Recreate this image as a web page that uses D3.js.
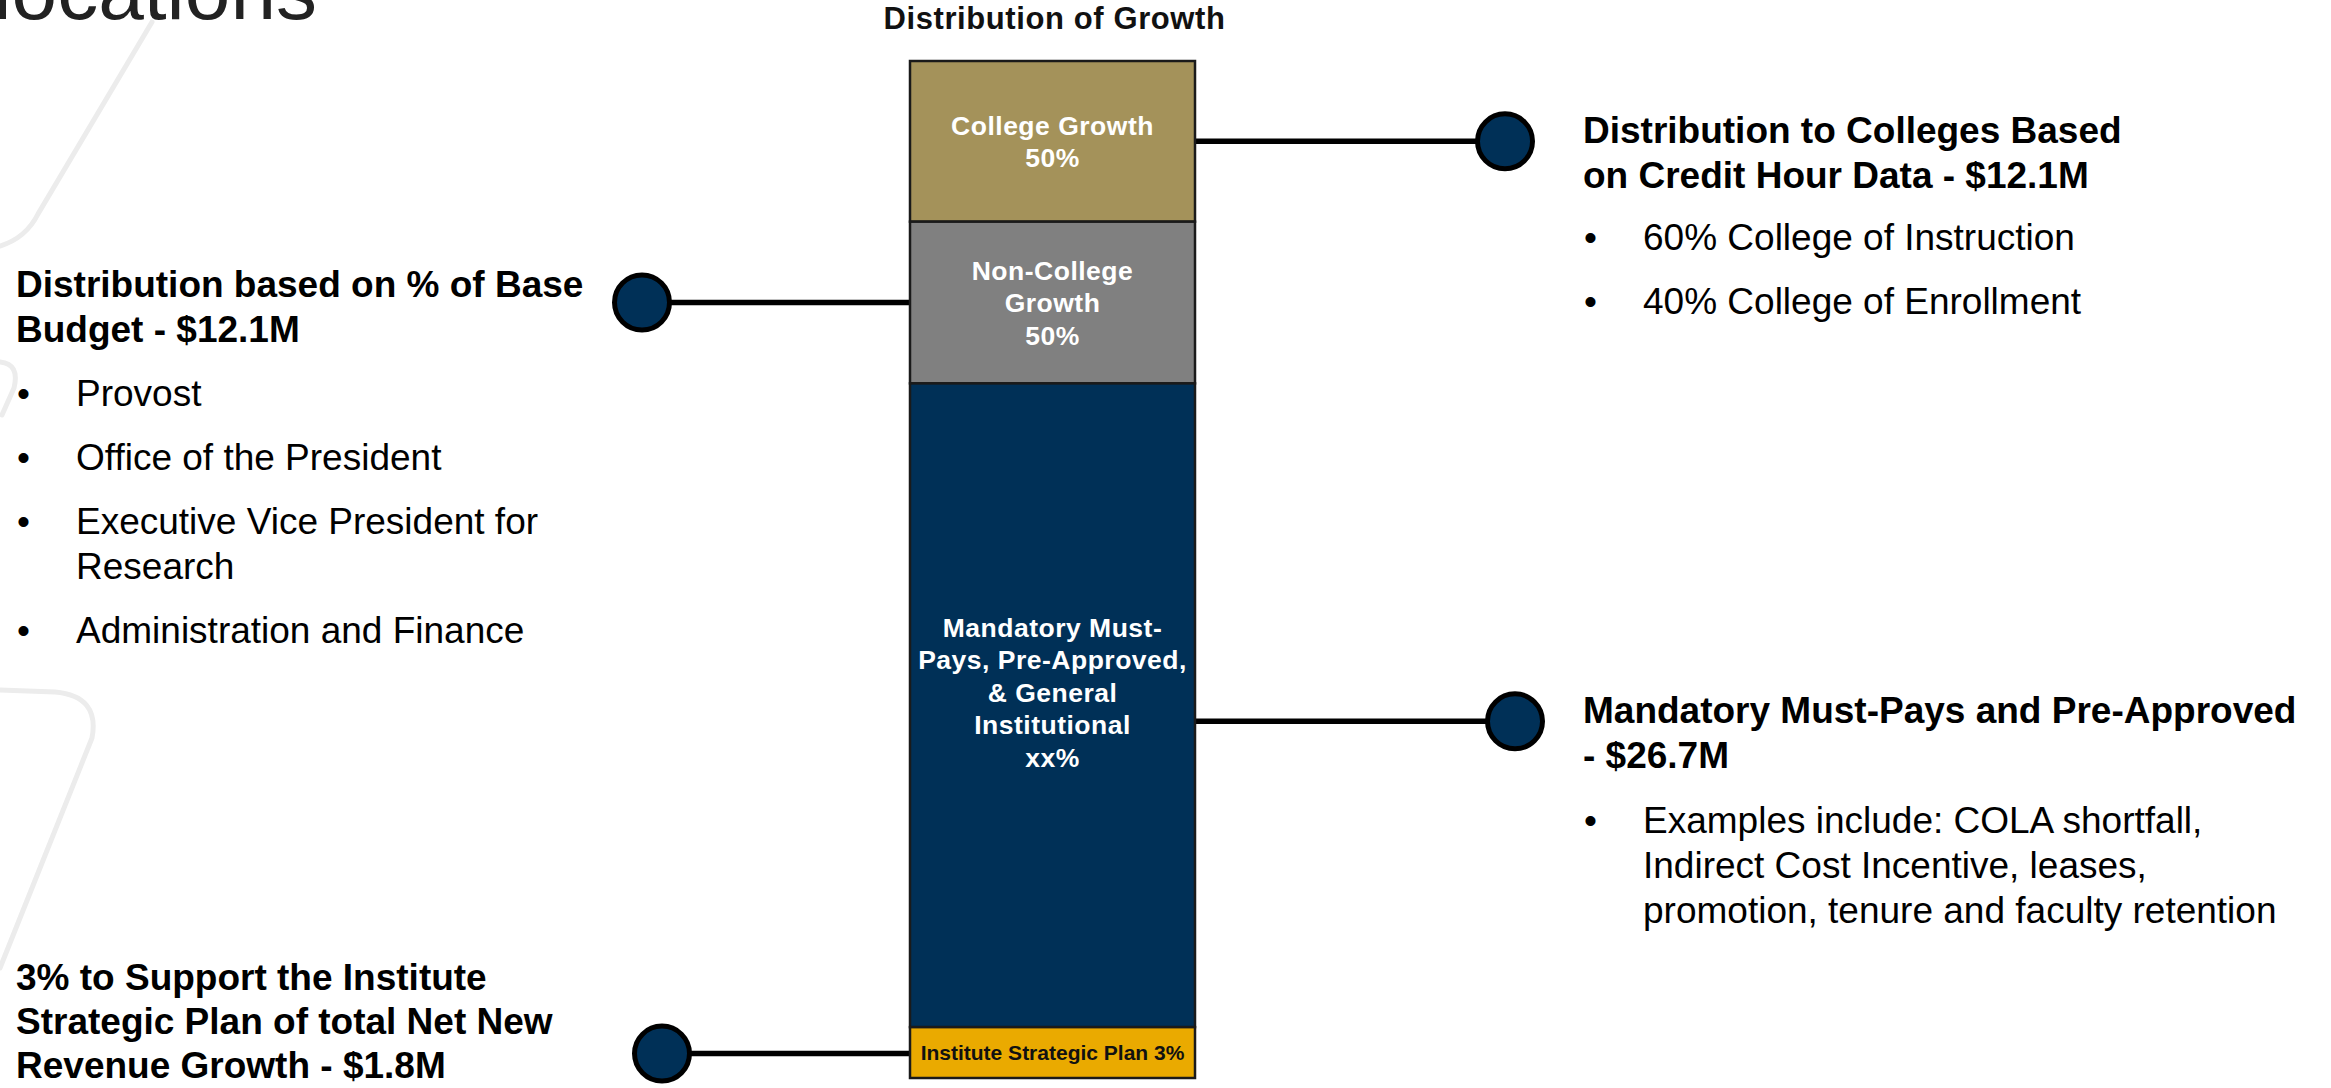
<!DOCTYPE html>
<html>
<head>
<meta charset="utf-8">
<script src="https://cdn.jsdelivr.net/npm/d3@7"></script>
<style>
  html, body { margin: 0; padding: 0; background: #fff; }
  svg { display: block; font-family: "Liberation Sans", Arial, sans-serif; }
</style>
</head>
<body>
<div id="chart"></div>
<script>
// bar segments, top to bottom
var segNames = ["College Growth", "Non-College Growth", "Mandatory Must-Pays, Pre-Approved, & General Institutional", "Institute Strategic Plan"];
var segShare = [15.8, 15.9, 63.3, 5.0]; // share of the bar height, as drawn
var segLabels = [
  ["College Growth", "50%"],
  ["Non-College", "Growth", "50%"],
  ["Mandatory Must-", "Pays, Pre-Approved,", "& General", "Institutional", "xx%"],
  ["Institute Strategic Plan 3%"]
];
var segColors = ["#a4925a", "#808080", "#003057", "#eaaa00"];
var segTextColors = ["#ffffff", "#ffffff", "#ffffff", "#111111"];

// callouts, one per segment
var calloutSide = ["right", "left", "right", "left"];
var calloutHeads = [
  ["Distribution to Colleges Based", "on Credit Hour Data - $12.1M"],
  ["Distribution based on % of Base", "Budget - $12.1M"],
  ["Mandatory Must-Pays and Pre-Approved", "- $26.7M"],
  ["3% to Support the Institute", "Strategic Plan of total Net New", "Revenue Growth - $1.8M"]
];
var calloutBullets = [
  [["60% College of Instruction"], ["40% College of Enrollment"]],
  [["Provost"], ["Office of the President"], ["Executive Vice President for", "Research"], ["Administration and Finance"]],
  [["Examples include: COLA shortfall,", "Indirect Cost Incentive, leases,", "promotion, tenure and faculty retention"]],
  []
];

var W = 2331, H = 1088;
var bar = {x0: 910, x1: 1195, top: 61, bottom: 1078};
var anchorAt = [0.5, 0.5, 0.525, 0.52];   // where the connector leaves each segment
var labelShift = [0, 0, -13, 0];
var circleX = [1505, 642, 1515, 662];
var headY = [143, 297, 723, 990];
var headLH = [45, 45, 45, 44];
var bulletY = [250, 406, 833, 0];
var lineH = 45, bulletGap = 64;

var svg = d3.select("#chart").append("svg")
  .attr("width", W)
  .attr("height", H);

// faint background strokes of the slide
var deco = svg.append("g")
  .attr("fill", "none")
  .attr("stroke", "#ececec")
  .attr("stroke-width", 5)
  .attr("stroke-linecap", "round");
deco.append("path").attr("d", "M152,22 L38,214 Q26,238 0,246");
deco.append("path").attr("d", "M0,362 Q20,364 14,388 L2,415");
deco.append("path").attr("d", "M0,690 L55,692 Q100,696 92,738 L0,968");

// slide title, cut by the top edge as in the slide
svg.append("text")
  .attr("x", 317)
  .attr("y", 19)
  .attr("text-anchor", "end")
  .attr("font-size", 82)
  .attr("fill", "#222")
  .text("Allocations");

svg.append("text")
  .attr("x", (bar.x0 + bar.x1) / 2 + 2)
  .attr("y", 29)
  .attr("text-anchor", "middle")
  .attr("font-size", 31)
  .attr("font-weight", "bold")
  .attr("letter-spacing", 0.6)
  .attr("fill", "#111")
  .text("Distribution of Growth");

var y = d3.scaleLinear()
  .domain([0, d3.sum(segShare)])
  .range([bar.top, bar.bottom]);

var ends = Array.from(d3.cumsum(segShare));
var segs = segNames.map((n, i) => ({
  name: n, i: i,
  y0: ends[i] - segShare[i],
  y1: ends[i]
}));
segs.forEach(d => { d.anchor = y(d.y0 + segShare[d.i] * anchorAt[d.i]); });

// connectors
svg.append("g")
  .selectAll("line")
  .data(segs)
  .join("line")
  .attr("x1", d => calloutSide[d.i] == "right" ? bar.x1 : bar.x0)
  .attr("x2", d => circleX[d.i])
  .attr("y1", d => d.anchor)
  .attr("y2", d => d.anchor)
  .attr("stroke", "#000")
  .attr("stroke-width", 5.5);

// stacked bar
svg.append("g")
  .selectAll("rect")
  .data(segs)
  .join("rect")
  .attr("x", bar.x0)
  .attr("width", bar.x1 - bar.x0)
  .attr("y", d => y(d.y0))
  .attr("height", d => y(d.y1) - y(d.y0))
  .attr("fill", d => segColors[d.i])
  .attr("stroke", "#1a1a1a")
  .attr("stroke-width", 2.5);

// segment labels
segs.forEach(function(d) {
  var lines = segLabels[d.i];
  var small = d.i == 3;
  var fs = small ? 21 : 26.5;
  var lh = small ? 0 : 32.5;
  var mid = (y(d.y0) + y(d.y1)) / 2 + labelShift[d.i];
  var first = mid - (lines.length - 1) * lh / 2 + fs * 0.36;
  svg.append("g")
    .selectAll("text")
    .data(lines)
    .join("text")
    .attr("x", (bar.x0 + bar.x1) / 2)
    .attr("y", (t, k) => first + k * lh)
    .attr("text-anchor", "middle")
    .attr("font-size", fs)
    .attr("font-weight", "bold")
    .attr("letter-spacing", small ? 0 : 0.5)
    .attr("fill", segTextColors[d.i])
    .text(t => t);
});

// end circles
svg.append("g")
  .selectAll("circle")
  .data(segs)
  .join("circle")
  .attr("cx", d => circleX[d.i])
  .attr("cy", d => d.anchor)
  .attr("r", 27.5)
  .attr("fill", "#003057")
  .attr("stroke", "#000")
  .attr("stroke-width", 5);

// callout text blocks
segs.forEach(function(d) {
  var left = calloutSide[d.i] == "left" ? 16 : 1583;
  var g = svg.append("g").attr("fill", "#000").attr("font-size", 37);

  g.selectAll("text.head")
    .data(calloutHeads[d.i])
    .join("text")
    .attr("class", "head")
    .attr("x", left)
    .attr("y", (t, k) => headY[d.i] + k * headLH[d.i])
    .attr("font-weight", "bold")
    .text(t => t);

  var by = bulletY[d.i];
  calloutBullets[d.i].forEach(function(b) {
    g.append("text")
      .attr("x", left + 1)
      .attr("y", by)
      .text("\u2022");
    b.forEach(function(t, k) {
      g.append("text")
        .attr("x", left + 60)
        .attr("y", by + k * lineH)
        .text(t);
    });
    by += bulletGap + (b.length - 1) * lineH;
  });
});
</script>
</body>
</html>
